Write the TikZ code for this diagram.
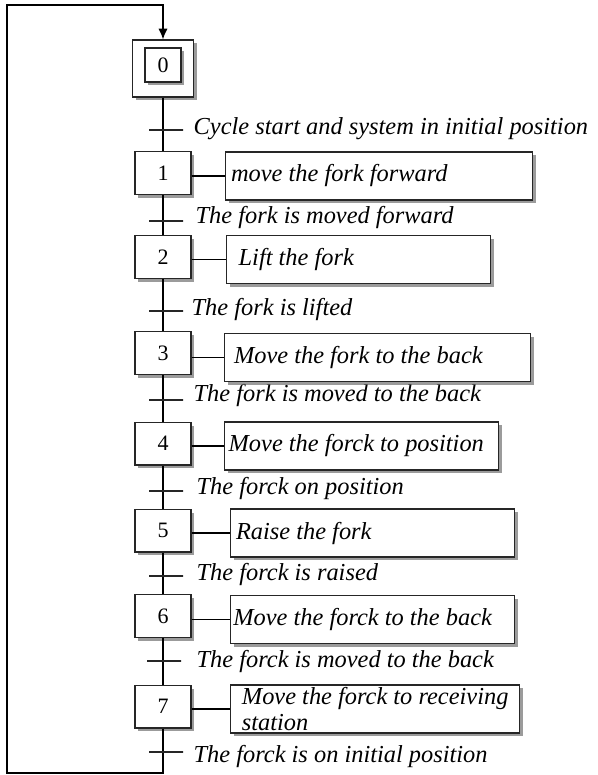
\documentclass[tikz,border=0pt]{standalone}
\usepackage{fontspec}
\setmainfont{Liberation Serif}
\usetikzlibrary{shadows,arrows.meta}

\tikzset{every picture/.style={line width=1pt}}
\tikzset{
  boxshadow/.style={drop shadow={shadow xshift=2.5pt,shadow yshift=-2.5pt,fill=black!60,opacity=0.65}},
  stepbox/.style={draw=black!85,fill=white,boxshadow,minimum width=42pt,minimum height=32pt,inner sep=0pt,font=\fontsize{16.5}{18}\selectfont},
  actbox/.style={draw=black!85,fill=white,boxshadow,anchor=west,minimum height=36pt,inner xsep=4pt,inner ysep=1pt,align=flush left,font=\fontsize{18.3}{19.5}\selectfont\itshape},
  tick/.style={draw=black!85,minimum width=25.5pt,minimum height=0pt,inner sep=0pt},
  tlabel/.style={anchor=west,inner sep=0.75pt,font=\fontsize{18.3}{19.5}\selectfont\itshape}
}

\begin{document}
\begin{tikzpicture}[x=0.75pt,y=0.75pt,yscale=-1,xscale=1]
\useasboundingbox (0,0) rectangle (598,775);

%Steps
\node[stepbox,minimum width=45.75pt,minimum height=42.75pt] (s0) at (163,68.5) {};
\node[stepbox,minimum width=27pt,minimum height=25.5pt] (s0in) at (163,65) {0};
\node[stepbox] (s1) at (163,173) {1};
\node[stepbox] (s2) at (163,257) {2};
\node[stepbox] (s3) at (163,353) {3};
\node[stepbox] (s4) at (163,443.5) {4};
\node[stepbox] (s5) at (163,530.5) {5};
\node[stepbox] (s6) at (163,616) {6};
\node[stepbox] (s7) at (163,706.5) {7};

%Loop corners
\coordinate (lpbot) at (163,773);
\coordinate (lpleft) at (7,773);
\coordinate (lptop) at (7,5);
\coordinate (lpright) at (163,5);

%Straight Lines
\draw (s0) -- (s1);
\draw (s1) -- (s2);
\draw (s2) -- (s3);
\draw (s3) -- (s4);
\draw (s4) -- (s5);
\draw (s5) -- (s6);
\draw (s6) -- (s7);
\draw [-{Latex[length=8pt,width=7pt]}] (s7) -- (lpbot) -- (lpleft) -- (lptop) -- (lpright) -- (s0);

%Transitions
\node[tick] (t0) at (166,130) {};
\node[tick] (t1) at (166,221) {};
\node[tick] (t2) at (166,311) {};
\node[tick] (t3) at (166,400) {};
\node[tick] (t4) at (166,491) {};
\node[tick] (t5) at (166,576) {};
\node[tick] (t6) at (164,661) {};
\node[tick] (t7) at (166,752) {};

% Text Node
\node[tlabel] (l0) at (192,129) {Cycle start and system in initial position};
% Text Node
\node[tlabel] (l1) at (194,218) {The fork is moved forward};
% Text Node
\node[tlabel] (l2) at (190,310) {The fork is lifted};
% Text Node
\node[tlabel] (l3) at (192,396) {The fork is moved to the back};
% Text Node
\node[tlabel] (l4) at (195,488) {The forck on position};
% Text Node
\node[tlabel] (l5) at (195,574) {The forck is raised};
% Text Node
\node[tlabel] (l6) at (195,661) {The forck is moved to the back};
% Text Node
\node[tlabel] (l7) at (192,756) {The forck is on initial position};

%Actions
\node[actbox,text width=222pt] (a1) at (225,176) {move the fork forward};
\node[actbox,inner xsep=9pt,text width=180pt] (a2) at (226,259.5) {Lift the fork};
\node[actbox,inner xsep=7pt,text width=215.5pt] (a3) at (224,357.5) {Move the fork to the back};
\node[actbox,inner xsep=3pt,text width=199.5pt] (a4) at (224,446) {Move the forck to position};
\node[actbox,text width=205pt] (a5) at (230,533) {Raise the fork};
\node[actbox,inner xsep=2pt,text width=209pt] (a6) at (230,619.5) {Move the forck to the back};
\node[actbox,align=left,inner ysep=0pt,minimum width=216.75pt] (a7) at (230,709) {Move the forck to receiving\\station};

%Links
\draw (s1.east |- a1.west) -- (a1.west);
\draw (s2.east |- a2.west) -- (a2.west);
\draw (s3.east |- a3.west) -- (a3.west);
\draw (s4.east |- a4.west) -- (a4.west);
\draw (s5.east |- a5.west) -- (a5.west);
\draw (s6.east |- a6.west) -- (a6.west);
\draw (s7.east |- a7.west) -- (a7.west);

\end{tikzpicture}
\end{document}
